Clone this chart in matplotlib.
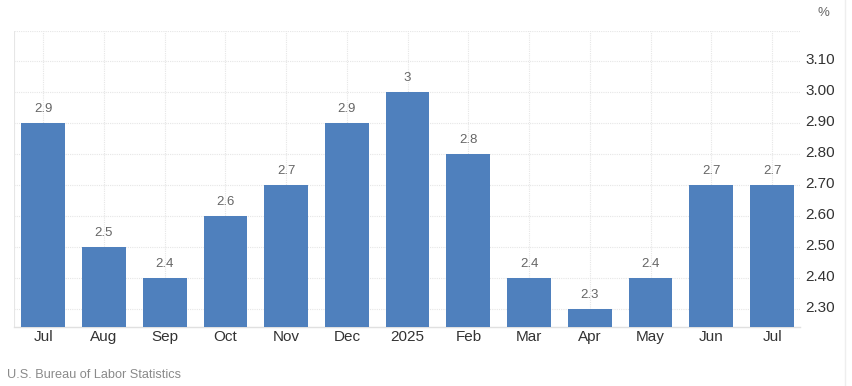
import matplotlib
matplotlib.use("Agg")
import matplotlib.pyplot as plt
from matplotlib.lines import Line2D
import matplotlib.transforms as mtransforms

categories = ["Jul", "Aug", "Sep", "Oct", "Nov", "Dec", "2025", "Feb", "Mar", "Apr", "May", "Jun", "Jul"]
values = [2.9, 2.5, 2.4, 2.6, 2.7, 2.9, 3.0, 2.8, 2.4, 2.3, 2.4, 2.7, 2.7]
labels = ["2.9", "2.5", "2.4", "2.6", "2.7", "2.9", "3", "2.8", "2.4", "2.3", "2.4", "2.7", "2.7"]
yticks = [2.30, 2.40, 2.50, 2.60, 2.70, 2.80, 2.90, 3.00, 3.10]
source = "U.S. Bureau of Labor Statistics"

plt.rcParams['font.family'] = ['Liberation Sans', 'DejaVu Sans']

fig = plt.figure(figsize=(8.53, 3.86), dpi=100)
ax = fig.add_axes([14/853, 1 - 327/386, (800 - 14)/853, (327 - 31)/386])

x = list(range(len(categories)))
ax.bar(x, values, width=0.72, color="#4f80bd", zorder=3, bottom=0)
ymin, ymax = 2.243, 3.197
ax.set_ylim(ymin, ymax)
ax.set_xlim(-0.48, 12.46)

for xi, v, lab in zip(x, values, labels):
    ax.annotate(lab, (xi, v), xytext=(0, 6), textcoords="offset points",
                ha="center", va="bottom", fontsize=9.5, color="#666666", zorder=4)

ax.yaxis.tick_right()
ax.set_yticks(yticks)
ax.set_yticklabels([f"{t:.2f}" for t in yticks], fontsize=11, color="#333333")
ax.set_xticks(x)
ax.set_xticklabels(categories, fontsize=11, color="#333333")
ax.tick_params(axis="x", length=0, pad=2)
ax.tick_params(axis="y", length=0, pad=4)
offset = mtransforms.ScaledTranslation(0, 3/100, fig.dpi_scale_trans)
for lbl in ax.get_yticklabels():
    lbl.set_transform(lbl.get_transform() + offset)

ax.grid(True, color="#e6e6e6", linestyle=(0, (1, 1)), linewidth=0.8, zorder=0)
for s in ["top", "right", "left"]:
    ax.spines[s].set_visible(False)
ax.spines["bottom"].set_color("#e0e0e0")
ax.spines["bottom"].set_linewidth(1)
ax.axhline(ymax, color="#e6e6e6", linestyle=(0, (1, 1)), linewidth=0.8, zorder=0)
ax.axvline(-0.48, color="#e6e6e6", linewidth=0.8, zorder=0)

fig.text(823/853, 1 - 13/386, "%", fontsize=9.5, color="#666666", ha="center", va="center")
fig.text(7/853, 1 - 375/386, source, fontsize=9.2, color="#8a8a8a", ha="left", va="center")
fig.add_artist(Line2D([845/853, 845/853], [0, 1], color="#eeeeee", linewidth=1, transform=fig.transFigure))

fig.savefig("out.png", dpi=100)
